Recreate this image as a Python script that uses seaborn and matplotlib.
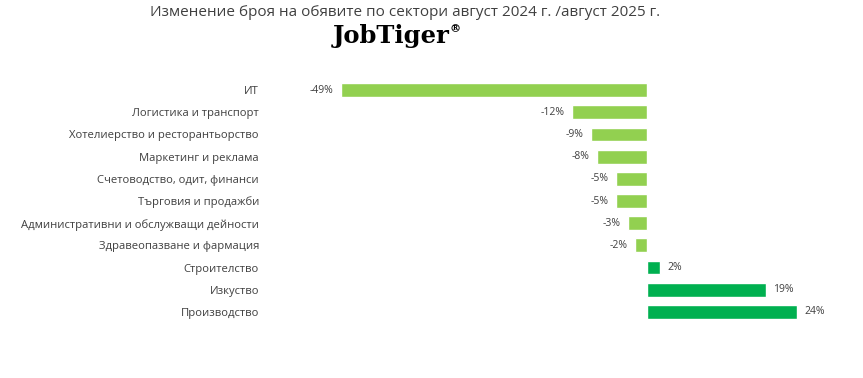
import matplotlib
matplotlib.use('Agg')
import matplotlib.pyplot as plt
import pandas as pd
import seaborn as sns

sectors = ['ИТ', 'Логистика и транспорт', 'Хотелиерство и ресторантьорство',
           'Маркетинг и реклама', 'Счетоводство, одит, финанси', 'Търговия и продажби',
           'Административни и обслужващи дейности', 'Здравеопазване и фармация',
           'Строителство', 'Изкуство', 'Производство']
change = [-49, -12, -9, -8, -5, -5, -3, -2, 2, 19, 24]

df = pd.DataFrame({'sector': sectors, 'change': change})
df['sign'] = ['neg' if v < 0 else 'pos' for v in change]

sns.set_theme(style='white')
plt.rcParams['font.family'] = ['Open Sans', 'DejaVu Sans']

fig = plt.figure(figsize=(8.63, 3.78), dpi=100)
# оси: 0 на x=647px, 6.245 px на процент
ax = fig.add_axes([270 / 863, 55 / 378, 560 / 863, 244 / 378])

sns.barplot(data=df, x='change', y='sector', hue='sign',
            palette={'neg': '#92D050', 'pos': '#00B050'}, saturation=1,
            dodge=False, legend=False, width=0.62, orient='h', ax=ax)

ax.set_xlim(-60.4, 29.3)
ax.set_ylim(10.5, -0.5)
ax.set_xticks([])
ax.set_xlabel('')
ax.set_ylabel('')
for s in ax.spines.values():
    s.set_visible(False)
ax.tick_params(axis='y', length=0, pad=8, labelsize=8.1, labelcolor='#404040')

for i, v in enumerate(change):
    if v < 0:
        ax.text(v - 1.2, i, f'{v}%', ha='right', va='center', fontsize=7.5, color='#404040')
    else:
        ax.text(v + 1.2, i, f'{v}%', ha='left', va='center', fontsize=7.5, color='#404040')

fig.text(405 / 863, 1 - 12 / 378, 'Изменение броя на обявите по сектори август 2024 г. /август 2025 г.',
         ha='center', va='center', fontsize=11, color='#404040')
fig.text(391 / 863, 1 - 36 / 378, 'JobTiger', ha='center', va='center',
         fontsize=17.5, fontweight='bold', family=['DejaVu Serif'], color='black')
fig.text(449 / 863, 1 - 29 / 378, '®', ha='left', va='center',
         fontsize=8, fontweight='bold', family=['DejaVu Serif'], color='black')

fig.savefig('out.png', dpi=100)
